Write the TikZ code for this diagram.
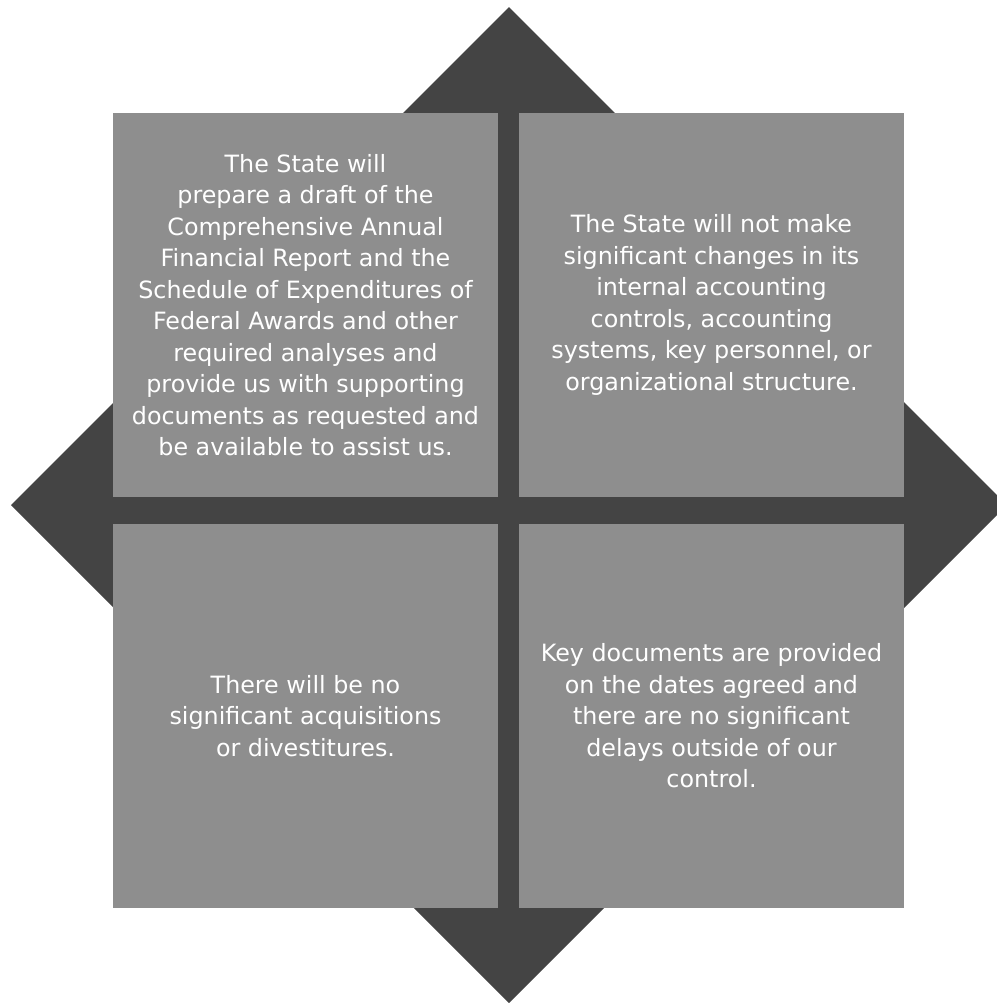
\documentclass[tikz,border=0pt]{standalone}
\usepackage{fontspec}
\setmainfont{DejaVu Sans}
\usepackage{tikz}
\usetikzlibrary{positioning}
\definecolor{panelgray}{RGB}{142,142,142}
\definecolor{backgray}{RGB}{68,68,68}

\begin{document}
\begin{tikzpicture}[x=0.5pt, y=-0.5pt]
   \useasboundingbox (0,0) rectangle (997,1003);
   % dark diamond behind the panels
   \fill[backgray] (509,7) -- (1007,505) -- (509,1003) -- (11,505) -- cycle;
   \begin{scope}[every node/.style={rectangle, fill=panelgray, text=white,
       minimum width=192.5pt, minimum height=192pt, inner sep=0pt, align=center,
       font=\fontsize{11.9pt}{15.75pt}\selectfont}]
    \node (p1) at (305.5,305) {The State will\\ prepare a draft of the\\ Comprehensive Annual\\ Financial Report and the\\ Schedule of Expenditures of\\ Federal Awards and other\\ required analyses and\\ provide us with supporting\\ documents as requested and\\ be available to assist us.};
    \node (p2) at (711.5,305) {The State will not make\\ significant changes in its\\ internal accounting\\ controls, accounting\\ systems, key personnel, or\\ organizational structure.};
    \node (p3) at (305.5,716) {There will be no\\ significant acquisitions\\ or divestitures.};
    \node (p4) at (711.5,716) {Key documents are provided\\ on the dates agreed and\\ there are no significant\\ delays outside of our\\ control.};
   \end{scope}
\end{tikzpicture}
\end{document}
